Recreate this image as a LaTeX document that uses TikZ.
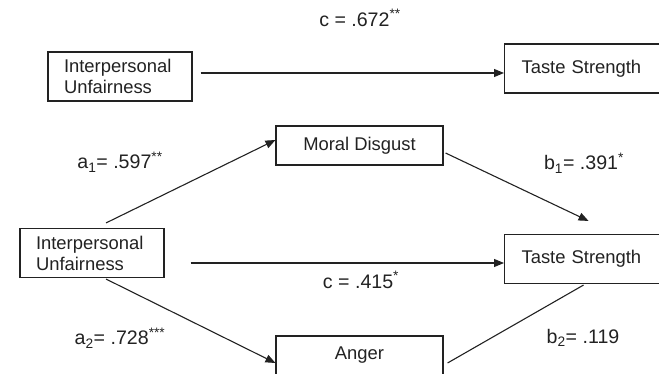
\documentclass[tikz,border=0pt]{standalone}
\usepackage{fontspec}
\setmainfont{Liberation Sans}
\usetikzlibrary{arrows.meta}
\definecolor{ink}{HTML}{222222}

\begin{document}
\begin{tikzpicture}[x=1pt, y=-1pt, line width=1.1pt, draw=ink, text=ink,
  font=\fontsize{18.4}{21}\selectfont,
  ivbox/.style={draw, fill=white, minimum height=49pt, text width=112pt,
    inner xsep=16pt, align=left},
  dvbox/.style={draw, fill=white, anchor=west, minimum height=49pt,
    text width=136pt, inner xsep=17pt, align=left},
  mvbox/.style={draw, fill=white, minimum width=167pt, minimum height=39pt},
  path/.style={-{Triangle[length=10pt,width=8pt]}},
  coef/.style={inner sep=0pt, font=\fontsize{19.6}{22}\selectfont}]

\useasboundingbox (0,0) rectangle (659,374);
\clip (0,0) rectangle (659,374);

% total effect
\begin{scope}
  \node[ivbox] (iuTop) at (120, 76.5) {Interpersonal\\Unfairness};
  \node[dvbox] (tsTop) at (504, 68.5) {Taste Strength};

  \node[coef] (cTop) at (360, 18) {c = .672\textsuperscript{**}};

  \draw[path] ([xshift=8pt, yshift=3.5pt]iuTop.east) -- ([yshift=-4.5pt]tsTop.west);
\end{scope}

% mediation through moral disgust and anger
\begin{scope}
  \node[ivbox] (iuBot) at ( 92, 253)   {Interpersonal\\Unfairness};
  \node[mvbox] (md)    at (359.5, 145.5) {Moral Disgust};
  \node[mvbox] (ang)   at (359.5, 355.5) {Anger};
  \node[dvbox] (tsBot) at (504, 259)   {Taste Strength};

  \node[coef] (aOne) at (120, 162) {a\textsubscript{1}= .597\textsuperscript{**}};
  \node[coef] (bOne) at (584, 163) {b\textsubscript{1}= .391\textsuperscript{*}};
  \node[coef] (cBot) at (361, 280) {c = .415\textsuperscript{*}};
  \node[coef] (aTwo) at (120, 338) {a\textsubscript{2}= .728\textsuperscript{***}};
  \node[coef] (bTwo) at (583, 338) {b\textsubscript{2}= .119};

  \draw[path] ([xshift=14pt, yshift=5pt]iuBot.north) -- ([yshift=5.5pt]md.west);
  \draw[path] ([xshift=2pt, yshift=-7.5pt]md.east) -- ([xshift=-1pt, yshift=13pt]tsBot.north);
  \draw[path] ([xshift=26pt, yshift=-10pt]iuBot.east) -- ([yshift=-4pt]tsBot.west);
  \draw[path] ([xshift=14pt, yshift=-1pt]iuBot.south) -- ([yshift=-7.5pt]ang.west);
  \draw ([xshift=4pt, yshift=-7.5pt]ang.east) -- ([xshift=-6pt, yshift=-1pt]tsBot.south);
\end{scope}

\end{tikzpicture}
\end{document}
